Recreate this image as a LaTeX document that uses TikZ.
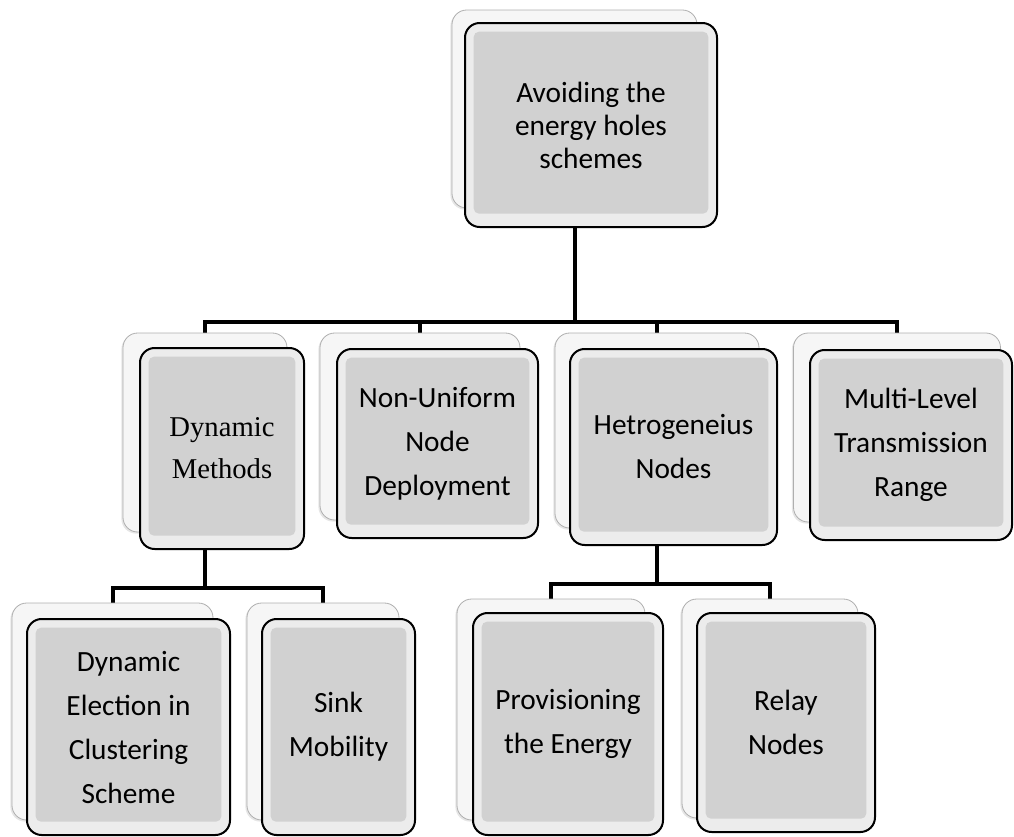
\documentclass[tikz,border=0pt]{standalone}
\usepackage{fontspec}
\setmainfont{Carlito}
\newfontfamily\tnrfont{Liberation Serif}
\usetikzlibrary{shadows}
\pgfdeclarelayer{bg}
\pgfsetlayers{bg,main}
\definecolor{rimc}{RGB}{236,236,236}
\definecolor{panelc}{RGB}{209,209,209}
\definecolor{backfill}{RGB}{246,246,246}
\definecolor{backline}{RGB}{175,175,175}
\tikzset{
  backbox/.style={draw=backline, line width=0.6pt, fill=backfill, rounded corners=11pt,
    inner sep=0pt, outer sep=0pt,
    drop shadow={shadow xshift=-1.2pt, shadow yshift=-1.2pt, opacity=0.2}},
  frontbox/.style={draw=black, line width=1.5pt, fill=rimc, rounded corners=11pt,
    inner sep=0pt, outer sep=0pt, align=center,
    font=\fontsize{22}{33}\selectfont,
    path picture={
      \fill[panelc, rounded corners=4pt]
        ([shift={(6.5pt,-6.5pt)}]path picture bounding box.north west) rectangle
        ([shift={(-6.5pt,10pt)}]path picture bounding box.south east);
    }},
  conn/.style={line width=3pt, draw=black, line join=miter, line cap=rect}
}
\begin{document}
\begin{tikzpicture}[x=0.75pt, y=-0.75pt]
\useasboundingbox (0,0) rectangle (1014,836);

% top
\node[backbox, minimum width=245*0.75pt, minimum height=198*0.75pt] (topB) at (574.5,109) {};
\node[frontbox, minimum width=252*0.75pt, minimum height=204*0.75pt,
  font=\fontsize{22}{24.75}\selectfont] (topF) at (591,125) {Avoiding the\\energy holes\\schemes};

% level 1
\node[backbox, minimum width=164*0.75pt, minimum height=199*0.75pt] (dmB) at (205,432.5) {};
\node[frontbox, minimum width=164*0.75pt, minimum height=201*0.75pt,
  font=\tnrfont\fontsize{21.5}{31.5}\selectfont] (dmF) at (222,448.5) {Dynamic\\Methods};

\node[backbox, minimum width=200*0.75pt, minimum height=187*0.75pt] (nuB) at (420,426.5) {};
\node[frontbox, minimum width=201*0.75pt, minimum height=189*0.75pt] (nuF) at (437.5,443.5) {Non-Uniform\\Node\\Deployment};

\node[backbox, minimum width=204*0.75pt, minimum height=195*0.75pt] (hnB) at (657,430.5) {};
\node[frontbox, minimum width=207*0.75pt, minimum height=196*0.75pt] (hnF) at (673.5,447) {Hetrogeneius\\Nodes};

\node[backbox, minimum width=207*0.75pt, minimum height=189*0.75pt] (mlB) at (897,427.5) {};
\node[frontbox, minimum width=202*0.75pt, minimum height=190*0.75pt] (mlF) at (911,445) {Multi-Level\\Transmission\\Range};

% level 2
\node[backbox, minimum width=201*0.75pt, minimum height=217*0.75pt] (deB) at (112.5,711.5) {};
\node[frontbox, minimum width=203*0.75pt, minimum height=216*0.75pt] (deF) at (128.5,727) {Dynamic\\Election in\\Clustering\\Scheme};

\node[backbox, minimum width=152*0.75pt, minimum height=217*0.75pt] (smB) at (323,711.5) {};
\node[frontbox, minimum width=153*0.75pt, minimum height=216*0.75pt] (smF) at (338.5,727) {Sink\\Mobility};

\node[backbox, minimum width=188*0.75pt, minimum height=221*0.75pt] (peB) at (551,709.5) {};
\node[frontbox, minimum width=190*0.75pt, minimum height=222*0.75pt] (peF) at (568,724) {Provisioning\\the Energy};

\node[backbox, minimum width=176*0.75pt, minimum height=219*0.75pt] (rnB) at (770,708.5) {};
\node[frontbox, minimum width=178*0.75pt, minimum height=219*0.75pt] (rnF) at (786,722.5) {Relay\\Nodes};

% connector bar levels
\coordinate (barA) at (0,322);
\coordinate (barB) at (0,588);
\coordinate (barC) at (0,584);

\begin{pgfonlayer}{bg}
\draw[conn] (topB.south) -- (topB.south |- barA) -| (dmB.north);
\draw[conn] (topB.south) -- (topB.south |- barA) -| (nuB.north);
\draw[conn] (topB.south) -- (topB.south |- barA) -| (hnB.north);
\draw[conn] (topB.south) -- (topB.south |- barA) -| (mlB.north);
\draw[conn] (dmB.south) -- (dmB.south |- barB) -| (deB.north);
\draw[conn] (dmB.south) -- (dmB.south |- barB) -| (smB.north);
\draw[conn] (hnB.south) -- (hnB.south |- barC) -| (peB.north);
\draw[conn] (hnB.south) -- (hnB.south |- barC) -| (rnB.north);
\end{pgfonlayer}
\end{tikzpicture}
\end{document}
